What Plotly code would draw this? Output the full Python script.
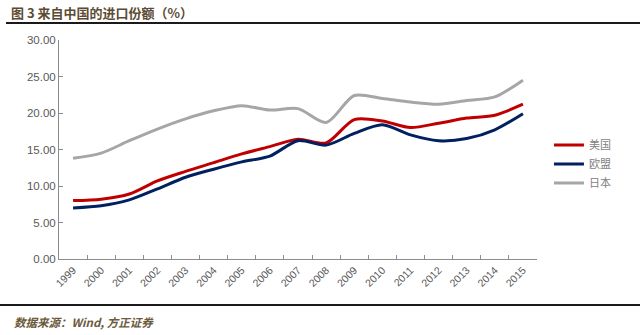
import plotly.graph_objects as go

years = [str(y) for y in range(1999, 2016)]
usa = [8.0, 8.2, 8.9, 10.7, 12.0, 13.2, 14.4, 15.4, 16.4, 15.9, 19.1, 18.9, 18.0, 18.6, 19.3, 19.7, 21.2]
eu = [7.0, 7.3, 8.1, 9.6, 11.2, 12.3, 13.3, 14.1, 16.2, 15.6, 17.2, 18.4, 17.0, 16.2, 16.5, 17.7, 19.9]
japan = [13.8, 14.5, 16.2, 17.8, 19.2, 20.3, 21.0, 20.4, 20.6, 18.7, 22.4, 22.0, 21.5, 21.2, 21.7, 22.2, 24.5]

series = [("美国", usa, "#c00000"), ("欧盟", eu, "#002060"), ("日本", japan, "#a6a6a6")]
ytick_vals = [0, 5, 10, 15, 20, 25, 30]
ytick_text = [f"{v:.2f}" for v in ytick_vals]

fig = go.Figure()
for name, vals, color in series:
    fig.add_trace(go.Scatter(
        x=years, y=vals, name=name, mode="lines",
        line=dict(color=color, width=3, shape="spline", smoothing=0.8),
    ))

axis_color = "#8c8c8c"
PW, PH, L, T = 478, 219, 59, 40  # plot area size and offsets in px


def px_x(px):
    return (px - L) / PW


def px_y(py):
    return 1 - (py - T) / PH


fig.update_layout(
    width=640, height=335,
    margin=dict(l=59, r=103, t=40, b=76),
    paper_bgcolor="white", plot_bgcolor="white",
    font=dict(family="Noto Sans CJK SC, Noto Sans, sans-serif", color="#595959"),
    showlegend=True,
    legend=dict(x=1.025, y=0.434, xanchor="left", yanchor="middle",
                font=dict(size=11, color="#7f7f7f"), itemwidth=30,
                bgcolor="rgba(0,0,0,0)", tracegroupgap=4),
    xaxis=dict(type="category", range=[-0.5, 16.5], showgrid=False,
               showline=True, linecolor=axis_color, linewidth=1,
               ticks="inside", ticklen=4, tickcolor=axis_color, tickson="boundaries",
               tickangle=-45, tickfont=dict(size=10.5, color="#595959",
                                            family="Liberation Sans, Arial, sans-serif")),
    yaxis=dict(range=[0, 30], tickvals=ytick_vals, ticktext=ytick_text, showgrid=False,
               showline=True, linecolor=axis_color, linewidth=1, zeroline=False,
               ticks="inside", ticklen=4, tickcolor=axis_color,
               tickfont=dict(size=11.5, color="#595959",
                             family="Liberation Sans, Arial, sans-serif")),
)

# Header and footer
fig.add_annotation(text="<b>图 3 来自中国的进口份额（%）</b>", xref="paper", yref="paper",
                   x=px_x(9), y=px_y(12), xanchor="left", yanchor="middle",
                   showarrow=False, font=dict(size=13, color="#5c4b33",
                                              family="Noto Sans CJK SC"))
fig.add_annotation(text="<b><i>数据来源：Wind, 方正证券</i></b>", xref="paper", yref="paper",
                   x=px_x(12), y=px_y(322), xanchor="left", yanchor="middle",
                   showarrow=False, font=dict(size=11.5, color="#6b5a3c",
                                              family="Noto Sans CJK SC"))
fig.add_shape(type="line", xref="paper", yref="paper",
              x0=px_x(6), x1=px_x(640), y0=px_y(23), y1=px_y(23),
              line=dict(color="#1a1a1a", width=2))
fig.add_shape(type="line", xref="paper", yref="paper",
              x0=px_x(0), x1=px_x(640), y0=px_y(305), y1=px_y(305),
              line=dict(color="#1a1a1a", width=2))

fig.write_html("out.html")
